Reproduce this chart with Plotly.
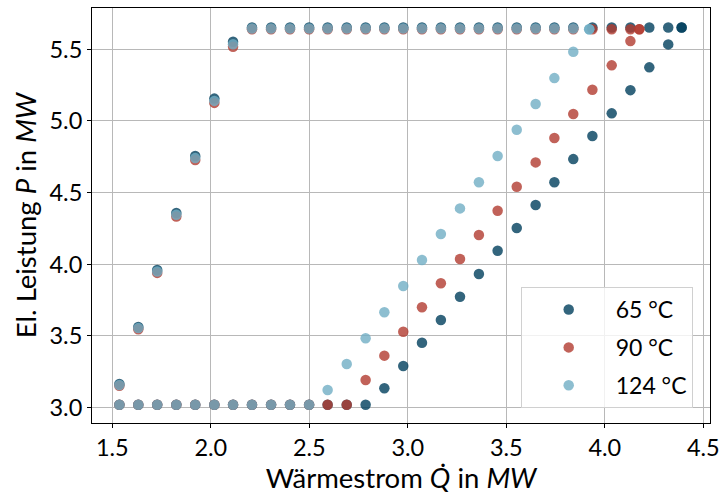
import plotly.graph_objects as go

# Heat output steps (MW) at which operating points were recorded
q_steps = [1.536, 1.632, 1.728, 1.825, 1.921, 2.018, 2.113, 2.209, 2.306, 2.402,
           2.499, 2.593, 2.690, 2.786, 2.881, 2.977, 3.072, 3.168, 3.265, 3.361,
           3.456, 3.553, 3.649, 3.744, 3.840, 3.937, 4.035, 4.130, 4.226, 4.322]

# 65 °C
p65_ramp = [3.165, 3.563, 3.960, 4.358, 4.755, 5.156, 5.553]          # steps 0..6
p65_min = [3.02] * 14                                                   # steps 0..13
p65_rise = [3.135, 3.291, 3.453, 3.612, 3.774, 3.932, 4.095, 4.253,
            4.414, 4.572, 4.734, 4.895, 5.053, 5.215, 5.374, 5.534]     # steps 14..29
p65_max = [5.652] * 23                                                  # steps 7..29
q65_end, p65_end = 4.390, 5.652

# 90 °C
p90_ramp = [3.152, 3.547, 3.940, 4.334, 4.727, 5.126, 5.518]
p90_min = [3.02] * 13                                                   # steps 0..12
p90_rise = [3.193, 3.363, 3.530, 3.700, 3.868, 4.037, 4.204, 4.374,
            4.541, 4.711, 4.881, 5.048, 5.218, 5.388, 5.557]            # steps 13..27
p90_max = [5.640] * 21                                                  # steps 7..27
q90_end, p90_end = 4.175, 5.640

# 124 °C
p124_ramp = [3.158, 3.555, 3.950, 4.346, 4.741, 5.140, 5.535]
p124_min = [3.02] * 11                                                  # steps 0..10
p124_rise = [3.123, 3.305, 3.484, 3.665, 3.849, 4.030, 4.211, 4.390,
             4.572, 4.755, 4.939, 5.118, 5.299, 5.483]                  # steps 11..24
p124_max = [5.645] * 18                                                 # steps 7..24
q124_end, p124_end = 3.921, 5.640

x_ticks = [1.5, 2.0, 2.5, 3.0, 3.5, 4.0, 4.5]
y_ticks = [3.0, 3.5, 4.0, 4.5, 5.0, 5.5]


def build(ramp, mins, rise, rise_start, maxs, q_end, p_end):
    q, p = [], []
    q += q_steps[0:len(ramp)]; p += ramp
    q += q_steps[0:len(mins)]; p += mins
    q += q_steps[rise_start:rise_start + len(rise)] + [q_end]; p += rise + [p_end]
    q += q_steps[7:7 + len(maxs)] + [q_end]; p += maxs + [p_end]
    return q, p


series = [
    ("65 °C", "#003f5c", build(p65_ramp, p65_min, p65_rise, 14, p65_max, q65_end, p65_end)),
    ("90 °C", "#b23b30", build(p90_ramp, p90_min, p90_rise, 13, p90_max, q90_end, p90_end)),
    ("124 °C", "#71aec4", build(p124_ramp, p124_min, p124_rise, 11, p124_max, q124_end, p124_end)),
]

fig = go.Figure()
for name, color, (q, p) in series:
    fig.add_trace(go.Scatter(
        x=q, y=p, mode="markers", name=name, legendgroup=name,
        marker=dict(color=color, size=10.5, opacity=0.8, line=dict(width=0)),
    ))

tick_font = dict(family="Lato", size=23.5, color="black")
title_font = dict(family="Lato", size=27.5, color="black")
axis_common = dict(
    showgrid=True, gridcolor="#b8b8b8", gridwidth=1,
    showline=True, linecolor="black", linewidth=1, mirror=True,
    ticks="outside", ticklen=4, tickcolor="black", tickwidth=1,
    tickfont=tick_font, zeroline=False, automargin=False,
)

fig.update_layout(
    width=721, height=497,
    margin=dict(l=92, r=11, t=8, b=74),
    paper_bgcolor="white", plot_bgcolor="white",
    font=tick_font,
    xaxis=dict(axis_common, range=[1.397, 4.534], tickvals=x_ticks,
               ticktext=[f"{v:.1f}" for v in x_ticks],
               title=dict(text="Wärmestrom <i>Q̇</i> in <i>MW</i>", font=title_font, standoff=6)),
    yaxis=dict(axis_common, range=[2.893, 5.788], tickvals=y_ticks,
               ticktext=[f"{v:.1f}" for v in y_ticks],
               title=dict(text="El. Leistung <i>P</i> in <i>MW</i>", font=title_font, standoff=4)),
    legend=dict(
        x=0.972, y=0.036, xanchor="right", yanchor="bottom",
        bgcolor="rgba(255,255,255,0.8)", bordercolor="#d0d0d0", borderwidth=1,
        font=dict(family="Lato", size=23, color="black"),
        itemwidth=84, tracegroupgap=5,
    ),
    showlegend=True,
)

fig.write_html("out.html")
